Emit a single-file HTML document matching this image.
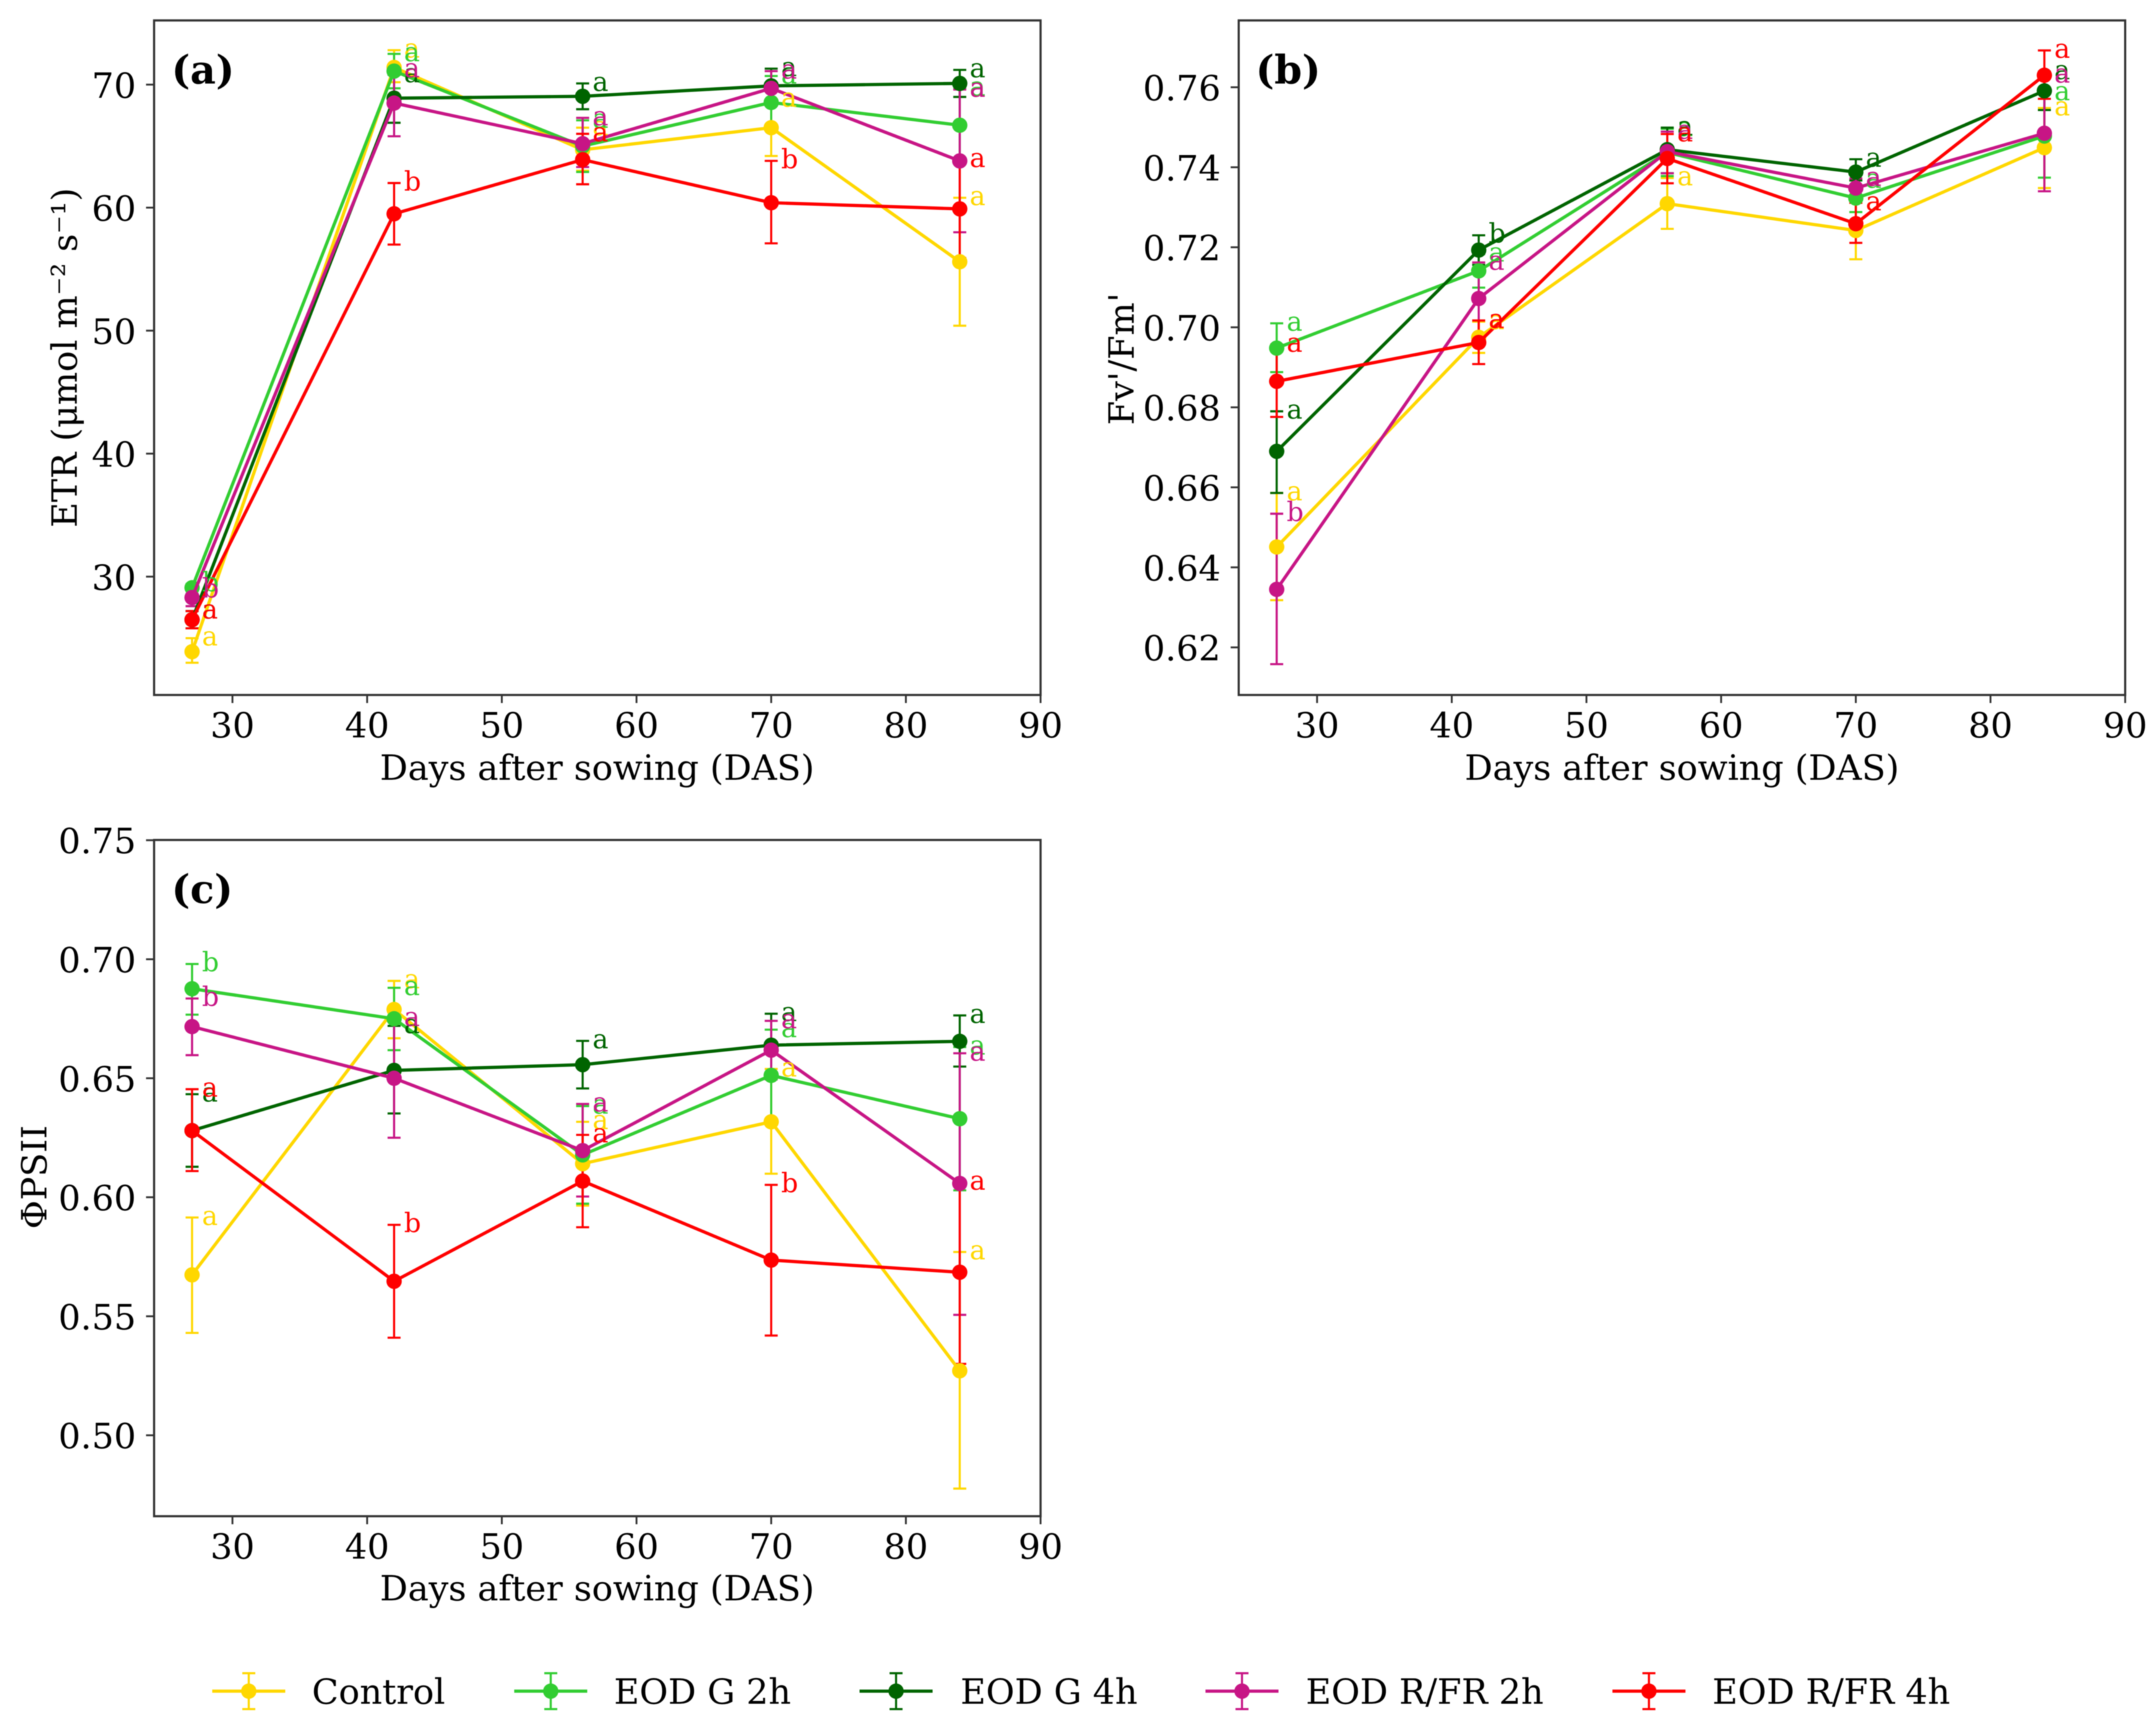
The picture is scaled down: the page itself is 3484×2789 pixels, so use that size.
<!DOCTYPE html>
<html lang="en">
<head>
<meta charset="utf-8">
<title>Photosynthetic parameters by days after sowing</title>
<style>
  html, body { margin: 0; padding: 0; background: #ffffff; }
  body { width: 3484px; height: 2789px; overflow: hidden; }
  svg { display: block; filter: blur(0.8px); }
  text { font-family: "DejaVu Serif", "Liberation Serif", serif; fill: #000000; }
  .tick-text, .axis-title, .legend-text { font-size: 56.5px; }
  .panel-letter { font-size: 64px; font-weight: bold; }
  .sig { font-size: 43px; }
</style>
</head>
<body>
<svg id="figure" xmlns="http://www.w3.org/2000/svg" width="3484" height="2789" viewBox="0 0 3484 2789">
  <rect x="0" y="0" width="3484" height="2789" fill="#ffffff"></rect>

  <g id="panel-a"></g>
  <g id="panel-b"></g>
  <g id="panel-c"></g>

  <text class="panel-letter" x="277" y="135">(a)</text>
  <text class="panel-letter" x="2029" y="135">(b)</text>
  <text class="panel-letter" x="277" y="1459">(c)</text>

  <text class="axis-title" x="965" y="1260" text-anchor="middle">Days after sowing (DAS)</text>
  <text class="axis-title" x="2718" y="1260" text-anchor="middle">Days after sowing (DAS)</text>
  <text class="axis-title" x="965" y="2586" text-anchor="middle">Days after sowing (DAS)</text>

  <text class="axis-title" transform="translate(124 578) rotate(-90)" text-anchor="middle">ETR (μmol m⁻² s⁻¹)</text>
  <text class="axis-title" transform="translate(1832 580) rotate(-90)" text-anchor="middle">Fv'/Fm'</text>
  <text class="axis-title" transform="translate(75 1902) rotate(-90)" text-anchor="middle">ΦPSII</text>

  <g id="legend">
    <text class="legend-text" x="504" y="2753">Control</text>
    <text class="legend-text" x="992" y="2753">EOD G 2h</text>
    <text class="legend-text" x="1552" y="2753">EOD G 4h</text>
    <text class="legend-text" x="2110" y="2753">EOD R/FR 2h</text>
    <text class="legend-text" x="2767" y="2753">EOD R/FR 4h</text>
  </g>
</svg>

<script>
// ---- Data ----
const days = [27, 42, 56, 70, 84];
const seriesNames = ['control', 'eod-g-2h', 'eod-g-4h', 'eod-rfr-2h', 'eod-rfr-4h'];
const seriesColors = ['#FFD700', '#32CD32', '#006400', '#C71585', '#FF0000'];

const xTicks = [30, 40, 50, 60, 70, 80, 90];
const etrTicks = [30, 40, 50, 60, 70];
const fvTicks = [0.62, 0.64, 0.66, 0.68, 0.70, 0.72, 0.74, 0.76];
const phiTicks = [0.50, 0.55, 0.60, 0.65, 0.70, 0.75];

const etrMean = [
  [23.9, 71.4, 64.7, 66.5, 55.6],
  [29.1, 71.1, 65.0, 68.55, 66.7],
  [26.5, 68.9, 69.05, 69.9, 70.1],
  [28.3, 68.5, 65.2, 69.7, 63.8],
  [26.5, 59.5, 63.9, 60.4, 59.9]
];
const etrUpper = [
  [25.0, 72.8, 66.5, 68.8, 60.8],
  [29.4, 72.5, 67.1, 70.7, 69.7],
  [27.2, 70.8, 70.1, 71.3, 71.2],
  [28.9, 71.2, 67.3, 71.1, 69.6],
  [27.2, 62.0, 66.0, 63.8, 63.9]
];
const etrLower = [
  [23.0, 70.2, 63.0, 64.2, 50.4],
  [28.6, 69.7, 62.9, 66.4, 63.7],
  [25.8, 66.9, 68.0, 68.5, 69.0],
  [27.6, 65.8, 63.3, 68.3, 58.0],
  [25.8, 57.0, 61.9, 57.1, 55.9]
];
const etrLetters = ['aaaaa', 'baaaa', 'aaaaa', 'baaaa', 'ababa'];

const fvMean = [
  [0.6451, 0.6975, 0.7309, 0.7242, 0.7449],
  [0.6948, 0.7141, 0.7437, 0.7323, 0.7478],
  [0.6690, 0.7193, 0.7444, 0.7388, 0.7591],
  [0.6345, 0.7072, 0.7439, 0.7348, 0.7485],
  [0.6865, 0.6962, 0.7422, 0.7259, 0.7630]
];
const fvUpper = [
  [0.6586, 0.7014, 0.7373, 0.7311, 0.7548],
  [0.7010, 0.7183, 0.7496, 0.7367, 0.7586],
  [0.6790, 0.7230, 0.7499, 0.7420, 0.7639],
  [0.6534, 0.7162, 0.7489, 0.7372, 0.7630],
  [0.6957, 0.7017, 0.7483, 0.7311, 0.7692]
];
const fvLower = [
  [0.6318, 0.6936, 0.7246, 0.7170, 0.7348],
  [0.6888, 0.7099, 0.7378, 0.7288, 0.7374],
  [0.6586, 0.7156, 0.7385, 0.7367, 0.7543],
  [0.6158, 0.6980, 0.7385, 0.7324, 0.7340],
  [0.6776, 0.6908, 0.7360, 0.7211, 0.7571]
];
const fvLetters = ['aaaaa', 'aaaaa', 'abaaa', 'baaaa', 'aaaaa'];

const phiMean = [
  [0.5674, 0.6789, 0.6141, 0.6317, 0.5271],
  [0.6876, 0.6750, 0.6178, 0.6512, 0.6330],
  [0.6280, 0.6533, 0.6557, 0.6639, 0.6655],
  [0.6717, 0.6500, 0.6196, 0.6618, 0.6058],
  [0.6280, 0.5647, 0.6068, 0.5736, 0.5685]
];
const phiUpper = [
  [0.5915, 0.6909, 0.6317, 0.6539, 0.5770],
  [0.6980, 0.6880, 0.6383, 0.6704, 0.6631],
  [0.6433, 0.6720, 0.6657, 0.6771, 0.6764],
  [0.6835, 0.6750, 0.6392, 0.6741, 0.6605],
  [0.6454, 0.5884, 0.6262, 0.6052, 0.6063]
];
const phiLower = [
  [0.5430, 0.6668, 0.5965, 0.6099, 0.4776],
  [0.6767, 0.6618, 0.5973, 0.6320, 0.6029],
  [0.6128, 0.6352, 0.6457, 0.6507, 0.6549],
  [0.6597, 0.6250, 0.6003, 0.6495, 0.5506],
  [0.6110, 0.5410, 0.5874, 0.5419, 0.5300]
];
const phiLetters = ['aaaaa', 'baaaa', 'aaaaa', 'baaaa', 'ababa'];

// ---- Layout and drawing ----
const SVG_NS = 'http://www.w3.org/2000/svg';
const SPINE_COLOR = '#333333';
const LINE_WIDTH = 5.2;
const MARKER_RADIUS = 12.4;
const ERROR_WIDTH = 3.4;

function make(tag, attrs, parent) {
  const node = document.createElementNS(SVG_NS, tag);
  for (const key in attrs) { node.setAttribute(key, attrs[key]); }
  parent.appendChild(node);
  return node;
}

function linearScale(domainMin, domainMax, rangeMin, rangeMax) {
  return function (v) {
    return rangeMin + (v - domainMin) / (domainMax - domainMin) * (rangeMax - rangeMin);
  };
}

function drawPanel(cfg) {
  const root = document.getElementById(cfg.id);
  const xScale = linearScale(cfg.xMin, cfg.xMax, cfg.left, cfg.right);
  const yScale = linearScale(cfg.yMin, cfg.yMax, cfg.bottom, cfg.top);

  const frame = make('rect', {
    x: cfg.left, y: cfg.top, width: cfg.right - cfg.left, height: cfg.bottom - cfg.top,
    fill: 'none', stroke: SPINE_COLOR, 'stroke-width': 3.5
  }, root);
  
  

  xTicks.forEach(function (t) {
    const px = xScale(t);
    const mark = make('line', {
      x1: px, x2: px, y1: cfg.bottom, y2: cfg.bottom + 13,
      stroke: SPINE_COLOR, 'stroke-width': 3
    }, root);
    
    
    const label = make('text', {
      class: 'tick-text', x: px, y: cfg.bottom + 68.5, 'text-anchor': 'middle'
    }, root);
    label.textContent = String(t);
    
    
  });

  cfg.yTicks.forEach(function (t) {
    const py = yScale(t);
    const text = t.toFixed(cfg.decimals);
    const mark = make('line', {
      x1: cfg.left - 13, x2: cfg.left, y1: py, y2: py,
      stroke: SPINE_COLOR, 'stroke-width': 3
    }, root);
    
    
    const label = make('text', {
      class: 'tick-text', x: cfg.left - 29, y: py + 21, 'text-anchor': 'end'
    }, root);
    label.textContent = text;
    
    
  });

  // Error bars sit beneath every line and marker.
  cfg.mean.forEach(function (values, s) {
    const color = seriesColors[s];
    const group = make('g', {}, root);
    
    

    days.forEach(function (day, i) {
      const px = xScale(day);
      const hi = yScale(cfg.upper[s][i]);
      const lo = yScale(cfg.lower[s][i]);
      const stem = make('line', { x1: px, x2: px, y1: hi, y2: lo, stroke: color, 'stroke-width': ERROR_WIDTH }, group);
      
      
      const capHi = make('line', { x1: px - 10.5, x2: px + 10.5, y1: hi, y2: hi, stroke: color, 'stroke-width': ERROR_WIDTH }, group);
      
      
      const capLo = make('line', { x1: px - 10.5, x2: px + 10.5, y1: lo, y2: lo, stroke: color, 'stroke-width': ERROR_WIDTH }, group);
      
      
    });
  });

  cfg.mean.forEach(function (values, s) {
    const color = seriesColors[s];
    const group = make('g', {}, root);
    
    

    const points = values.map(function (v, i) { return xScale(days[i]) + ',' + yScale(v); }).join(' ');
    const line = make('polyline', {
      points: points, fill: 'none', stroke: color, 'stroke-width': LINE_WIDTH, 'stroke-linejoin': 'round'
    }, group);
    
    

    values.forEach(function (v, i) {
      const dot = make('circle', { cx: xScale(days[i]), cy: yScale(v), r: MARKER_RADIUS, fill: color }, group);
      
      
    });
  });

  cfg.mean.forEach(function (values, s) {
    days.forEach(function (day, i) {
      const sig = make('text', {
        class: 'sig', x: xScale(day) + 16, y: yScale(cfg.upper[s][i]) + 12
      }, root);
      sig.style.fill = seriesColors[s];
      sig.textContent = cfg.letters[s].charAt(i);
      
      
    });
  });
}

drawPanel({
  id: 'panel-a', key: 'etr',
  left: 249, right: 1681.5, top: 33, bottom: 1123,
  xMin: 24.18, xMax: 90, yMin: 20.38, yMax: 75.22,
  yTicks: etrTicks, decimals: 0,
  mean: etrMean, upper: etrUpper, lower: etrLower, letters: etrLetters
});
drawPanel({
  id: 'panel-b', key: 'fv-fm',
  left: 2001.7, right: 3434.2, top: 33, bottom: 1123,
  xMin: 24.18, xMax: 90, yMin: 0.6081, yMax: 0.7767,
  yTicks: fvTicks, decimals: 2,
  mean: fvMean, upper: fvUpper, lower: fvLower, letters: fvLetters
});
drawPanel({
  id: 'panel-c', key: 'phi-psii',
  left: 249, right: 1681.5, top: 1357.3, bottom: 2450,
  xMin: 24.18, xMax: 90, yMin: 0.4660, yMax: 0.7501,
  yTicks: phiTicks, decimals: 2,
  mean: phiMean, upper: phiUpper, lower: phiLower, letters: phiLetters
});

// Legend handles: one line, error bar and marker per series, coloured from seriesColors.
const legendRoot = document.getElementById('legend');
const legendCenters = [402, 890, 1448, 2007, 2664.6];
seriesNames.forEach(function (name, s) {
  const cx = legendCenters[s];
  const cy = 2732.7;
  const color = seriesColors[s];
  const vline = make('line', { x1: cx, x2: cx, y1: cy - 29, y2: cy + 29, stroke: color, 'stroke-width': ERROR_WIDTH }, legendRoot);
  
  
  const capTop = make('line', { x1: cx - 10.5, x2: cx + 10.5, y1: cy - 29, y2: cy - 29, stroke: color, 'stroke-width': ERROR_WIDTH }, legendRoot);
  
  
  const capBottom = make('line', { x1: cx - 10.5, x2: cx + 10.5, y1: cy + 29, y2: cy + 29, stroke: color, 'stroke-width': ERROR_WIDTH }, legendRoot);
  
  
  const hline = make('line', { x1: cx - 59, x2: cx + 59, y1: cy, y2: cy, stroke: color, 'stroke-width': LINE_WIDTH }, legendRoot);
  
  
  const marker = make('circle', { cx: cx, cy: cy, r: MARKER_RADIUS, fill: color }, legendRoot);
  
  
});
</script>
</body>
</html>
